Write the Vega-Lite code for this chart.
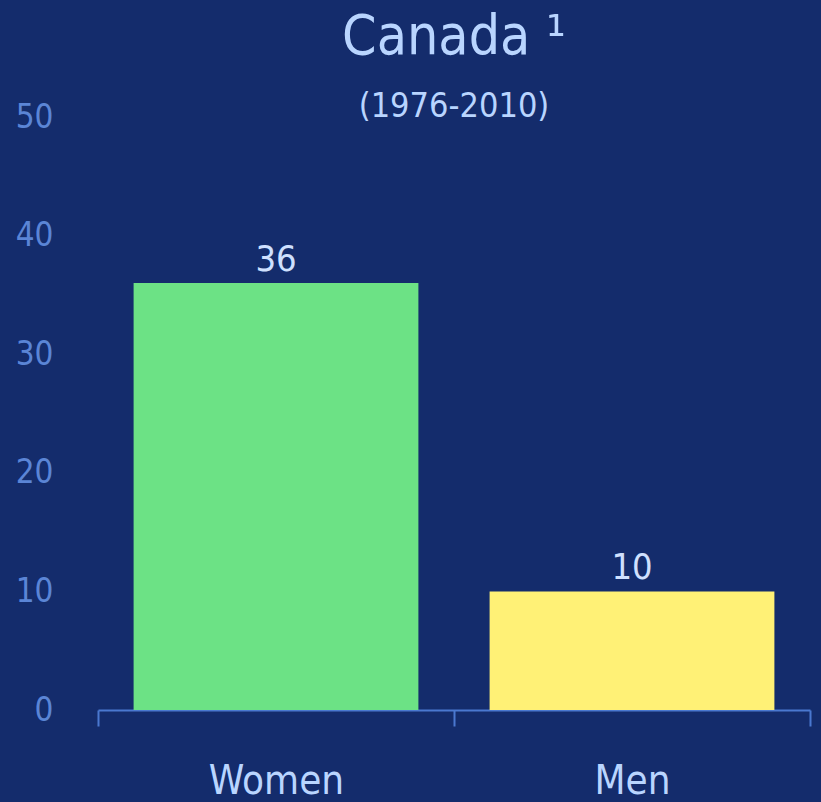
{
  "$schema": "https://vega.github.io/schema/vega-lite/v6.json",
  "width": 712,
  "height": 593,
  "autosize": {"type": "none"},
  "padding": {"left": 98, "top": 117, "right": 11, "bottom": 92},
  "background": "#142c6c",
  "config": {"view": {"stroke": null}, "font": "DejaVu Sans Condensed"},
  "title": {
    "text": "Canada ¹",
    "subtitle": "(1976-2010)",
    "color": "#b9d5ff",
    "subtitleColor": "#b9d5ff",
    "fontSize": 55,
    "subtitleFontSize": 34,
    "fontWeight": "normal",
    "subtitleFontWeight": "normal",
    "font": "DejaVu Sans Condensed",
    "subtitleFont": "DejaVu Sans Condensed",
    "anchor": "middle",
    "frame": "group",
    "offset": -24,
    "subtitlePadding": 24
  },
  "data": {"values": [{"sex": "Women", "value": 36}, {"sex": "Men", "value": 10}]},
  "encoding": {
    "x": {
      "field": "sex",
      "type": "nominal",
      "sort": null,
      "scale": {"paddingInner": 0, "paddingOuter": 0},
      "axis": {
        "title": null,
        "labelAngle": 0,
        "domainColor": "#4a78d0",
        "domainWidth": 2,
        "tickColor": "#4a78d0",
        "tickWidth": 2,
        "tickSize": 16,
        "tickBand": "extent",
        "labelFontSize": 40,
        "labelColor": "#b9d5ff",
        "labelPadding": 35,
        "labelFont": "DejaVu Sans Condensed"
      }
    },
    "y": {
      "field": "value",
      "type": "quantitative",
      "scale": {"domain": [0, 50]},
      "axis": {
        "title": null,
        "domain": false,
        "ticks": false,
        "grid": false,
        "values": [0, 10, 20, 30, 40, 50],
        "labelPadding": 45,
        "labelFontSize": 33,
        "labelColor": "#5b85d6",
        "labelFont": "DejaVu Sans Condensed"
      }
    }
  },
  "layer": [
    {
      "mark": {"type": "bar", "width": {"band": 0.8}},
      "encoding": {
        "color": {
          "field": "sex",
          "type": "nominal",
          "scale": {"domain": ["Women", "Men"], "range": ["#6ce285", "#fff176"]},
          "legend": null
        }
      }
    },
    {
      "mark": {"type": "text", "dy": -12, "baseline": "alphabetic", "fontSize": 36, "color": "#cfe0ff", "font": "DejaVu Sans Condensed"},
      "encoding": {"text": {"field": "value", "type": "quantitative"}}
    }
  ]
}
